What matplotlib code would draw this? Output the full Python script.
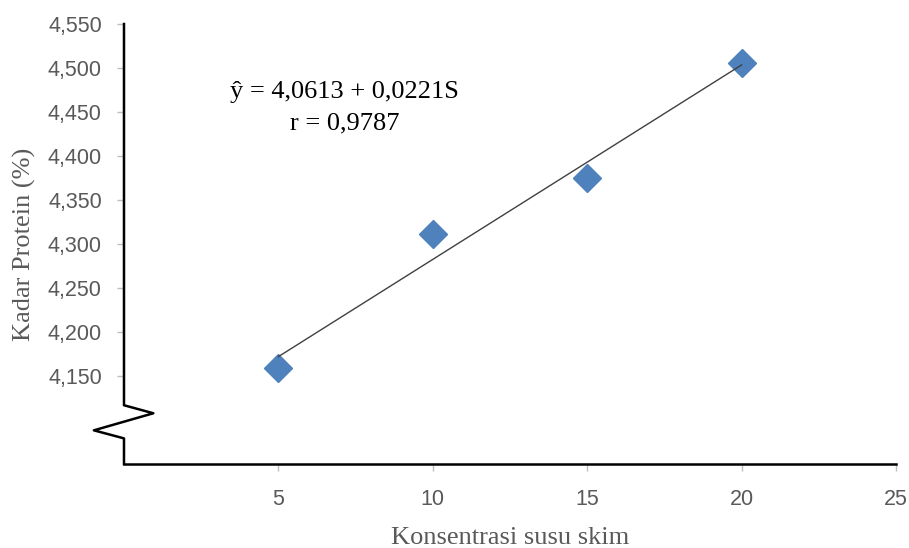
import matplotlib
matplotlib.use('Agg')
import matplotlib.pyplot as plt
from matplotlib.lines import Line2D
import numpy as np

# data
konsentrasi = [5, 10, 15, 20]
kadar_protein = [4.159, 4.311, 4.375, 4.506]
x_ticks = [5, 10, 15, 20, 25]
y_ticks = [4.15, 4.20, 4.25, 4.30, 4.35, 4.40, 4.45, 4.50, 4.55]
equation = 'ŷ = 4,0613 + 0,0221S'
r_text = 'r = 0,9787'

gray = '#595959'
serif = ['Liberation Serif', 'DejaVu Serif']

fig = plt.figure(figsize=(9.09, 5.48), dpi=100)
ax = fig.add_axes([0.1364, 0.1533, 0.8493, 0.8029])

ax.plot(konsentrasi, kadar_protein, linestyle='none', marker='D', ms=14,
        color='#4F81BD', zorder=3)

# linear trend line over the data range
slope, intercept = np.polyfit(konsentrasi, kadar_protein, 1)
xs = np.array([min(konsentrasi), max(konsentrasi)])
ax.plot(xs, intercept + slope * xs, color='#404040', lw=1.0, zorder=4)

ax.set_xlim(0, 25)
ax.set_ylim(4.05, 4.55)
ax.set_xticks(x_ticks)
ax.set_xticklabels([str(t) for t in x_ticks])
ax.set_yticks(y_ticks)
ax.set_yticklabels([f'{v:.3f}'.replace('.', ',') for v in y_ticks])
ax.tick_params(axis='both', colors='#bfbfbf', labelcolor=gray, labelsize=15.5,
               length=5, width=1)
ax.tick_params(axis='x', pad=13)
ax.tick_params(axis='y', pad=11)
for lab in ax.get_xticklabels() + ax.get_yticklabels():
    lab.set_family(['Liberation Sans', 'DejaVu Sans'])

for s in ['top', 'right', 'left']:
    ax.spines[s].set_visible(False)
ax.spines['bottom'].set_color('black')
ax.spines['bottom'].set_linewidth(1.8)

# left axis with break zigzag (axes-fraction coords)
bx = [0.0, 0.0, 0.038, -0.039, 0.0, 0.0]
by = [1.0, 0.1335, 0.1153, 0.0765, 0.0582, 0.0]
ax.add_line(Line2D(bx, by, transform=ax.transAxes, color='black', lw=1.8,
                   clip_on=False, zorder=5))

ax.set_xlabel('Konsentrasi susu skim', fontsize=19, color=gray,
              family=serif, labelpad=12)
ax.set_ylabel('Kadar Protein (%)', fontsize=19, color=gray, family=serif)
ax.yaxis.set_label_coords(-0.114, 0.5)

ax.text(0.286, 0.846, equation, transform=ax.transAxes, ha='center',
        va='center', fontsize=19, family=serif, color='black')
ax.text(0.286, 0.773, r_text, transform=ax.transAxes, ha='center',
        va='center', fontsize=19, family=serif, color='black')

fig.savefig('out.png', dpi=100)
